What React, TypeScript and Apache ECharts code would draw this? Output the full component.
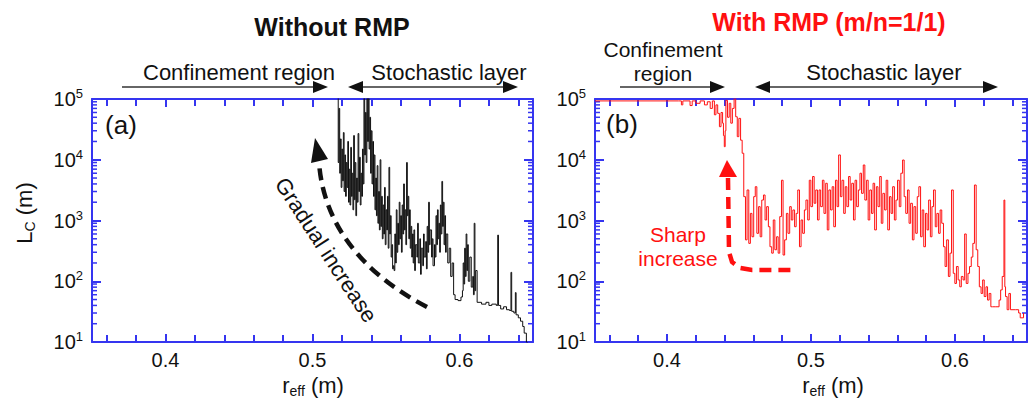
import { useEffect, useRef } from "react";
import * as echarts from "echarts";

const FONT = "'Liberation Sans', Arial, sans-serif";
const BLUE = "#3535f0";
const INK = "#111111";
const RED = "#ff1010";

// axis ranges and ticks
const xMin = 0.35;
const xMax = 0.65;
const yMin = 10;
const yMax = 100000;
const yMinor = [
  20, 30, 40, 50, 60, 70, 80, 90,
  200, 300, 400, 500, 600, 700, 800, 900,
  2000, 3000, 4000, 5000, 6000, 7000, 8000, 9000,
  20000, 30000, 40000, 50000, 60000, 70000, 80000, 90000,
];

// (a) without RMP: [r_eff, Lc]
const withoutRmp: [number, number][] = [
  [0.5168, 120000], [0.5175, 9000], [0.518, 70000], [0.5185, 6000], [0.519, 22000],
  [0.5195, 3500], [0.52, 15000], [0.5205, 4500], [0.521, 28000], [0.5215, 3000],
  [0.522, 12000], [0.5225, 2500], [0.523, 9000], [0.5235, 3500], [0.524, 20000],
  [0.5245, 2000], [0.525, 7000], [0.5255, 1800], [0.526, 16000], [0.5265, 2500],
  [0.527, 6000], [0.5275, 1500], [0.528, 25000], [0.5285, 2200], [0.529, 9000],
  [0.5295, 1200], [0.53, 5000], [0.5305, 2000], [0.531, 27000], [0.5315, 3000],
  [0.532, 11000], [0.5325, 1800], [0.533, 6000], [0.5335, 2500], [0.534, 15000],
  [0.5345, 4000], [0.535, 120000], [0.5355, 12000], [0.536, 60000], [0.5365, 9000],
  [0.537, 120000], [0.5375, 20000], [0.538, 120000], [0.5385, 15000], [0.539, 50000],
  [0.5395, 6000], [0.54, 30000], [0.5405, 4000], [0.541, 20000], [0.5415, 2500],
  [0.542, 12000], [0.5425, 1500], [0.543, 5000], [0.5435, 1200], [0.544, 8000],
  [0.5445, 900], [0.545, 3000], [0.5455, 700], [0.546, 10000], [0.5465, 800],
  [0.547, 2500], [0.5475, 500], [0.548, 1800], [0.5485, 600], [0.549, 3500],
  [0.5495, 400], [0.55, 1500], [0.5505, 700], [0.551, 2500], [0.5515, 350],
  [0.552, 7500], [0.5525, 600], [0.553, 1200], [0.5535, 250], [0.554, 400],
  [0.5545, 160], [0.555, 180], [0.5555, 150], [0.556, 600], [0.5565, 200],
  [0.557, 1500], [0.5575, 300], [0.558, 900], [0.5585, 400], [0.559, 2000],
  [0.5595, 500], [0.56, 1200], [0.5605, 300], [0.561, 1800], [0.5615, 600],
  [0.562, 4000], [0.5625, 700], [0.563, 1500], [0.5635, 400], [0.564, 9000],
  [0.5645, 1200], [0.565, 2500], [0.5655, 500], [0.566, 1500], [0.5665, 350],
  [0.567, 800], [0.5675, 250], [0.568, 600], [0.5685, 200], [0.569, 700],
  [0.5695, 150], [0.57, 400], [0.571, 250], [0.5715, 900], [0.572, 200],
  [0.573, 500], [0.5735, 130], [0.574, 350], [0.575, 180], [0.5755, 600],
  [0.576, 250], [0.577, 450], [0.5775, 160], [0.578, 800], [0.5785, 300],
  [0.579, 2000], [0.5795, 400], [0.58, 700], [0.581, 250], [0.5815, 500],
  [0.582, 180], [0.583, 400], [0.5835, 250], [0.584, 1200], [0.5845, 400],
  [0.585, 1500], [0.5855, 500], [0.586, 900], [0.5865, 300], [0.587, 1800],
  [0.5875, 600], [0.588, 4400], [0.5885, 800], [0.589, 2000], [0.5895, 400],
  [0.59, 1200], [0.5905, 300], [0.591, 600], [0.592, 200], [0.593, 350],
  [0.594, 120], [0.595, 200], [0.596, 60], [0.597, 50], [0.599, 48],
  [0.601, 55], [0.602, 70], [0.6025, 200], [0.603, 90], [0.6035, 350],
  [0.604, 120], [0.6045, 600], [0.605, 150], [0.6055, 400], [0.606, 100],
  [0.607, 250], [0.608, 80], [0.609, 120], [0.6095, 60], [0.61, 900],
  [0.6105, 70], [0.611, 150], [0.612, 45], [0.615, 42], [0.618, 45],
  [0.62, 40], [0.622, 42], [0.625, 40], [0.626, 575], [0.6265, 40],
  [0.628, 35], [0.63, 38], [0.632, 34], [0.634, 33], [0.635, 140],
  [0.6355, 32], [0.637, 30], [0.638, 65], [0.6385, 28], [0.64, 25],
  [0.6415, 22], [0.643, 18], [0.644, 14], [0.6455, 10], [0.646, 8],
];

// (b) with RMP (m/n=1/1): [r_eff, Lc]
const withRmp: [number, number][] = [
  [0.35, 93000], [0.408, 93000], [0.41, 80000], [0.411, 93000], [0.416, 78000],
  [0.4175, 93000], [0.42, 85000], [0.423, 93000], [0.426, 80000], [0.428, 90000],
  [0.43, 70000], [0.4315, 93000], [0.4329, 55000], [0.434, 80000], [0.4352, 58000],
  [0.4364, 35000], [0.4375, 60000], [0.4386, 40000], [0.4392, 25000], [0.4398, 16400],
  [0.4404, 30000], [0.4409, 95000], [0.442, 50000], [0.4432, 85000], [0.4443, 40000],
  [0.4454, 70000], [0.4466, 110000], [0.4477, 51000],
  [0.4488, 24000], [0.4499, 48000], [0.4511, 21000], [0.4522, 12800], [0.4533, 2470],
  [0.4545, 480], [0.4556, 3180], [0.4568, 420], [0.4579, 1310], [0.459, 540],
  [0.4602, 2470], [0.4613, 3600], [0.4624, 615], [0.4636, 1690], [0.4647, 540],
  [0.4658, 2170], [0.467, 2630], [0.4681, 1020], [0.4692, 1690], [0.4704, 790],
  [0.4715, 370], [0.4727, 290], [0.4738, 1020], [0.4749, 330], [0.4761, 540],
  [0.4772, 290], [0.4783, 1160], [0.4795, 4600], [0.4806, 270], [0.4817, 480],
  [0.4829, 1310], [0.484, 615], [0.4852, 1690], [0.4863, 1020], [0.4874, 1490],
  [0.4886, 790], [0.4897, 1310], [0.4908, 3180], [0.492, 370], [0.4931, 1020],
  [0.4942, 615], [0.4954, 1490], [0.4965, 2170], [0.4977, 1020], [0.4988, 4600],
  [0.4999, 1690], [0.5011, 5300], [0.5022, 1920], [0.5033, 3180], [0.5045, 1020],
  [0.5056, 3180], [0.5067, 1690], [0.5079, 4600], [0.509, 1310], [0.5102, 4100],
  [0.5113, 700], [0.5124, 3180], [0.5136, 1490], [0.5147, 3600], [0.5158, 790],
  [0.517, 4600], [0.5181, 1690], [0.5192, 12000], [0.5204, 2470], [0.5215, 4600],
  [0.5227, 1310], [0.5238, 3600], [0.5249, 1690], [0.5261, 5300], [0.5272, 2170],
  [0.5283, 4100], [0.5295, 1020], [0.5306, 4600], [0.5317, 1690], [0.5329, 3180],
  [0.534, 6000], [0.5351, 2800], [0.5363, 8200], [0.5374, 2170], [0.5386, 4600],
  [0.5397, 1020], [0.5408, 3180], [0.542, 1310], [0.5431, 4100], [0.5442, 700],
  [0.5454, 3600], [0.5465, 1690], [0.5477, 5300], [0.5488, 900], [0.5499, 2800],
  [0.5511, 1490], [0.5522, 4600], [0.5533, 700], [0.5545, 2470], [0.5556, 1310],
  [0.5567, 3600], [0.5579, 1020], [0.559, 2170], [0.5601, 4600], [0.5613, 1690],
  [0.5624, 6000], [0.5636, 9900], [0.5647, 2470], [0.5658, 1310], [0.567, 3180],
  [0.5681, 900], [0.5692, 1920], [0.5704, 480], [0.5715, 1690], [0.5727, 615],
  [0.5738, 2470], [0.5749, 3600], [0.5761, 540], [0.5772, 1490], [0.5783, 370],
  [0.5795, 1310], [0.5806, 700], [0.5817, 2170], [0.5829, 540], [0.584, 1690],
  [0.5851, 3180], [0.5863, 790], [0.5874, 1310], [0.5886, 615], [0.5897, 1490],
  [0.5908, 900], [0.592, 370], [0.5931, 175], [0.5942, 480], [0.5954, 120],
  [0.5965, 290], [0.5976, 3180], [0.5988, 135], [0.5999, 92], [0.601, 175],
  [0.6022, 105], [0.6033, 81], [0.6044, 120], [0.6056, 105], [0.6067, 600],
  [0.6078, 92], [0.609, 135], [0.6101, 175], [0.6113, 250], [0.6124, 420],
  [0.6135, 3840], [0.6147, 330], [0.6158, 175], [0.6169, 81], [0.6181, 63],
  [0.6192, 105], [0.6203, 56], [0.6215, 81], [0.6226, 49], [0.6237, 63],
  [0.6249, 38], [0.626, 38], [0.6283, 38], [0.6306, 49], [0.6317, 72],
  [0.6328, 120], [0.634, 2170], [0.6346, 81], [0.6351, 56], [0.6362, 34],
  [0.6374, 63], [0.6385, 34], [0.6419, 34], [0.6442, 30], [0.6453, 25],
  [0.6476, 30],
];

const tickLine = { color: BLUE, width: 2 };

// 0.1 major steps, minor ticks every 0.02 (the niced tick extent keeps them in phase)
function xAxes(gi: number) {
  const common = {
    gridIndex: gi,
    type: "value" as const,
    min: xMin,
    max: xMax,
    splitNumber: 3,
    splitLine: { show: false },
    minorSplitLine: { show: false },
    axisLine: { onZero: false, lineStyle: { color: BLUE, width: 2 } },
    axisTick: { show: true, inside: true, length: 8, lineStyle: tickLine },
    minorTick: { show: true, splitNumber: 5, length: 7, lineStyle: tickLine },
  };
  return [
    {
      ...common,
      position: "bottom" as const,
      axisLabel: {
        formatter: (v: number) => (Math.abs(v * 10 - Math.round(v * 10)) < 1e-6 ? v.toFixed(1) : ""),
        color: INK,
        fontSize: 20,
        fontFamily: FONT,
        margin: 8,
      },
    },
    { ...common, position: "top" as const, axisLabel: { show: false } },
  ];
}

function yAxes(gi: number) {
  const common = {
    gridIndex: gi,
    type: "log" as const,
    logBase: 10,
    min: yMin,
    max: yMax,
    splitLine: { show: false },
    axisLine: { onZero: false, lineStyle: { color: BLUE, width: 2 } },
    axisTick: { show: true, inside: true, length: 9, lineStyle: tickLine },
  };
  return [
    {
      ...common,
      position: "left" as const,
      axisLabel: {
        margin: 9,
        formatter: (v: number) => `{b|10}{s|${Math.round(Math.log10(v))}}`,
        rich: {
          b: { fontSize: 20, fontFamily: FONT, color: INK, lineHeight: 24 },
          s: { fontSize: 13, fontFamily: FONT, color: INK, lineHeight: 12, verticalAlign: "top" },
        },
      },
    },
    { ...common, position: "right" as const, axisLabel: { show: false } },
  ];
}

// minor log ticks (2..9 x 10^n) on both sides of a panel, placed through the axes
function minorTickSeries(xi: number, yi: number) {
  const data: [number, number][] = [];
  yMinor.forEach((v) => {
    data.push([xMin, v]);
    data.push([xMax, v]);
  });
  return {
    type: "custom",
    xAxisIndex: xi,
    yAxisIndex: yi,
    silent: true,
    clip: false,
    data,
    renderItem: (_p: unknown, api: any) => {
      const x = api.value(0);
      const pt = api.coord([x, api.value(1)]);
      const dir = x === xMin ? 1 : -1;
      return {
        type: "line",
        shape: { x1: pt[0], y1: pt[1], x2: pt[0] + dir * 5, y2: pt[1] },
        style: { stroke: BLUE, lineWidth: 1.5 },
      };
    },
  };
}

function label(x: number, y: number, text: string, extra: Record<string, unknown> = {}) {
  return {
    type: "text",
    x,
    y,
    silent: true,
    style: {
      text,
      fontFamily: FONT,
      fontSize: 22,
      fill: INK,
      align: "center",
      verticalAlign: "middle",
      ...extra,
    },
  };
}

function hLine(x1: number, x2: number, y: number) {
  return { type: "line", silent: true, shape: { x1, y1: y, x2, y2: y }, style: { stroke: "#333", lineWidth: 1.5 } };
}

function head(tip: number, y: number, dir: number) {
  return {
    type: "polygon",
    silent: true,
    shape: { points: [[tip, y], [tip - dir * 15, y - 6], [tip - dir * 15, y + 6]] },
    style: { fill: INK },
  };
}

const subRich = (size: number, fill: string) => ({
  a: { fontSize: size, fontFamily: FONT, fill, lineHeight: 26 },
  s: { fontSize: 14, fontFamily: FONT, fill, lineHeight: 12, verticalAlign: "bottom" },
});

export default function App() {
  const ref = useRef<HTMLDivElement | null>(null);

  useEffect(() => {
    if (!ref.current) return;
    const chart = echarts.init(ref.current, undefined, { renderer: "svg" });

    const graphic = [
      label(332, 27, "Without RMP", { fontWeight: "bold", fontSize: 25 }),
      label(829, 22, "With RMP (m/n=1/1)", { fontWeight: "bold", fontSize: 25, fill: RED }),

      label(239, 72, "Confinement region"),
      label(449, 72, "Stochastic layer"),
      hLine(122, 314, 87),
      head(328, 87, 1),
      hLine(362, 504, 87),
      head(348, 87, -1),
      head(518, 87, 1),

      label(663, 49, "Confinement", { fontSize: 21 }),
      label(663, 73, "region", { fontSize: 21 }),
      label(884, 72, "Stochastic layer"),
      hLine(620, 711, 87),
      head(725, 87, 1),
      hLine(769, 984, 87),
      head(755, 87, -1),
      head(998, 87, 1),

      label(121, 125, "(a)", { fontSize: 26 }),
      label(622, 124, "(b)", { fontSize: 26 }),

      {
        type: "text",
        x: 326,
        y: 250,
        rotation: (-57 * Math.PI) / 180,
        silent: true,
        style: {
          text: "Gradual increase",
          fontFamily: FONT,
          fontSize: 22,
          fill: INK,
          align: "center",
          verticalAlign: "middle",
        },
      },
      {
        type: "bezierCurve",
        silent: true,
        shape: { x1: 427, y1: 307, cpx1: 360, cpy1: 272, cpx2: 323, cpy2: 222, x2: 319, y2: 162 },
        style: { stroke: INK, fill: null, lineWidth: 4.5, lineDash: [12, 7] },
      },
      {
        type: "polygon",
        silent: true,
        shape: { points: [[315, 138], [311, 163], [328, 159]] },
        style: { fill: INK },
      },

      label(678, 234, "Sharp", { fill: RED, fontSize: 21 }),
      label(678, 258, "increase", { fill: RED, fontSize: 21 }),
      {
        type: "polyline",
        silent: true,
        shape: { points: [[728, 178], [729, 252], [732, 262], [740, 268], [752, 270], [791, 270]] },
        style: { stroke: RED, fill: null, lineWidth: 4.5, lineDash: [12, 7] },
      },
      {
        type: "polygon",
        silent: true,
        shape: { points: [[727, 160], [719, 177], [737, 177]] },
        style: { fill: RED },
      },

      {
        type: "text",
        x: 313,
        y: 385,
        silent: true,
        style: { text: "{a|r}{s|eff}{a| (m)}", rich: subRich(22, INK), align: "center", verticalAlign: "middle" },
      },
      {
        type: "text",
        x: 833,
        y: 385,
        silent: true,
        style: { text: "{a|r}{s|eff}{a| (m)}", rich: subRich(22, INK), align: "center", verticalAlign: "middle" },
      },
      {
        type: "text",
        x: 24,
        y: 213,
        rotation: Math.PI / 2,
        silent: true,
        style: { text: "{a|L}{s|C}{a| (m)}", rich: subRich(22, INK), align: "center", verticalAlign: "middle" },
      },
    ];

    chart.setOption({
      animation: false,
      backgroundColor: "#ffffff",
      grid: [
        { left: 92, top: 99, width: 441, height: 243 },
        { left: 595, top: 99, width: 440, height: 243 },
      ],
      xAxis: [...xAxes(0), ...xAxes(1)],
      yAxis: [...yAxes(0), ...yAxes(1)],
      series: [
        {
          type: "line",
          xAxisIndex: 0,
          yAxisIndex: 0,
          data: withoutRmp,
          step: "end",
          showSymbol: false,
          silent: true,
          lineStyle: { color: INK, width: 1 },
        },
        {
          type: "line",
          xAxisIndex: 2,
          yAxisIndex: 2,
          data: withRmp,
          step: "end",
          showSymbol: false,
          silent: true,
          lineStyle: { color: RED, width: 1 },
        },
        minorTickSeries(0, 0),
        minorTickSeries(2, 2),
      ],
      graphic,
    });

    return () => {
      chart.dispose();
    };
  }, []);

  return (
    <div
      ref={ref}
      style={{ position: "absolute", left: 0, top: 0, width: 1030, height: 407 }}
    />
  );
}
